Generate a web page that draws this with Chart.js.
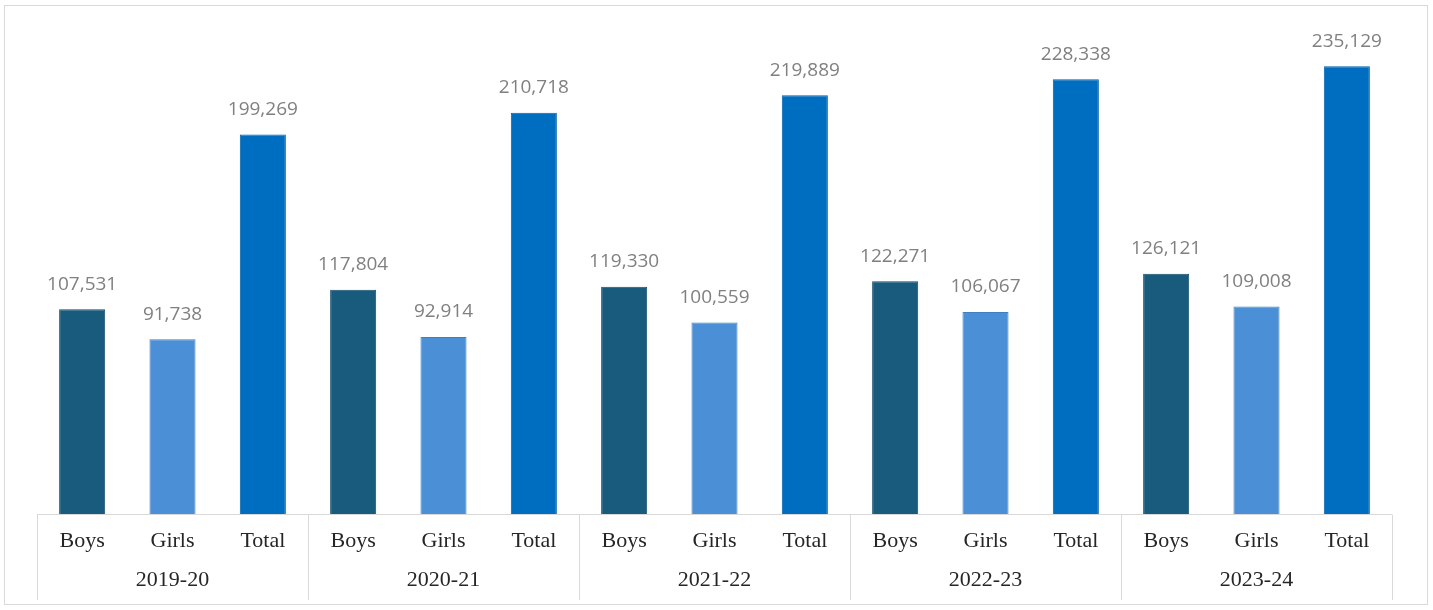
<!DOCTYPE html>
<html>
<head>
<meta charset="utf-8">
<script src="https://cdn.jsdelivr.net/npm/chart.js@4/dist/chart.umd.min.js"></script>
<style>
  html, body { margin: 0; padding: 0; background: #ffffff; }
  #wrap { width: 1433px; height: 610px; position: relative; }
</style>
</head>
<body>
<div id="wrap"><canvas id="c" width="1433" height="610"></canvas></div>
<script>
const years = ['2019-20', '2020-21', '2021-22', '2022-23', '2023-24'];
const groups = ['Boys', 'Girls', 'Total'];
const boys = [107531, 117804, 119330, 122271, 126121];
const girls = [91738, 92914, 100559, 106067, 109008];
const totals = [199269, 210718, 219889, 228338, 235129];
const seriesColors = ['#185b7d', '#4b8fd6', '#006ec0'];
const seriesBorders = ['#134d6b', '#3f7fc2', '#0062ab'];

const labels = [];
const values = [];
const bg = [];
const bd = [];
years.forEach((y, i) => {
  [boys[i], girls[i], totals[i]].forEach((v, j) => {
    labels.push(groups[j]);
    values.push(v);
    bg.push(seriesColors[j]);
    bd.push(seriesBorders[j]);
  });
});

const decor = {
  id: 'decor',
  beforeDraw(chart) {
    const ctx = chart.ctx;
    ctx.save();
    ctx.fillStyle = '#ffffff';
    ctx.fillRect(0, 0, chart.width, chart.height);
    ctx.strokeStyle = '#d9d9d9';
    ctx.lineWidth = 1;
    ctx.strokeRect(4.5, 5.5, 1423, 599);
    ctx.restore();
  },
  afterDraw(chart) {
    const ctx = chart.ctx;
    const xs = chart.scales.x;
    const area = chart.chartArea;
    const n = groups.length;
    const step = (xs.getPixelForValue(1) - xs.getPixelForValue(0));
    ctx.save();
    ctx.strokeStyle = '#d9d9d9';
    ctx.lineWidth = 1;
    const yb = Math.round(area.bottom) + 0.5;
    ctx.beginPath();
    ctx.moveTo(area.left, yb);
    ctx.lineTo(area.right, yb);
    for (let g = 0; g <= years.length; g++) {
      const x = Math.round(xs.getPixelForValue(g * n) - step / 2) + 0.5;
      ctx.moveTo(x, yb);
      ctx.lineTo(x, 600);
    }
    ctx.stroke();
    ctx.fillStyle = '#262626';
    ctx.font = '22px "Liberation Serif", "Times New Roman", serif';
    ctx.textAlign = 'center';
    ctx.textBaseline = 'middle';
    years.forEach((y, g) => {
      const x = xs.getPixelForValue(g * n + (n - 1) / 2);
      ctx.fillText(y, x, 580);
    });
    ctx.restore();
  },
  afterDatasetsDraw(chart) {
    const ctx = chart.ctx;
    const meta = chart.getDatasetMeta(0);
    ctx.save();
    ctx.fillStyle = '#808080';
    ctx.font = '19px "Open Sans", "Liberation Sans", sans-serif';
    ctx.textAlign = 'center';
    ctx.textBaseline = 'middle';
    meta.data.forEach((bar, i) => {
      ctx.fillText(values[i].toLocaleString('en-US'), bar.x, bar.y - 25);
    });
    ctx.restore();
  }
};

new Chart(document.getElementById('c'), {
  type: 'bar',
  data: {
    labels: labels,
    datasets: [{
      data: values,
      backgroundColor: bg,
      borderColor: bd,
      borderWidth: 1,
      barPercentage: 0.51,
      categoryPercentage: 1.0
    }]
  },
  options: {
    responsive: false,
    animation: false,
    layout: { padding: { left: 37, right: 41, top: 38, bottom: 6 } },
    plugins: { legend: { display: false }, tooltip: { enabled: false } },
    scales: {
      x: {
        grid: { display: false, drawTicks: false },
        border: { display: false },
        ticks: {
          color: '#262626',
          font: { family: '"Liberation Serif", "Times New Roman", serif', size: 22 },
          padding: 14,
          maxRotation: 0,
          autoSkip: false
        },
        afterFit(scale) { scale.height = 90; }
      },
      y: {
        display: false,
        min: 0,
        max: 250000
      }
    }
  },
  plugins: [decor]
});
</script>
</body>
</html>
